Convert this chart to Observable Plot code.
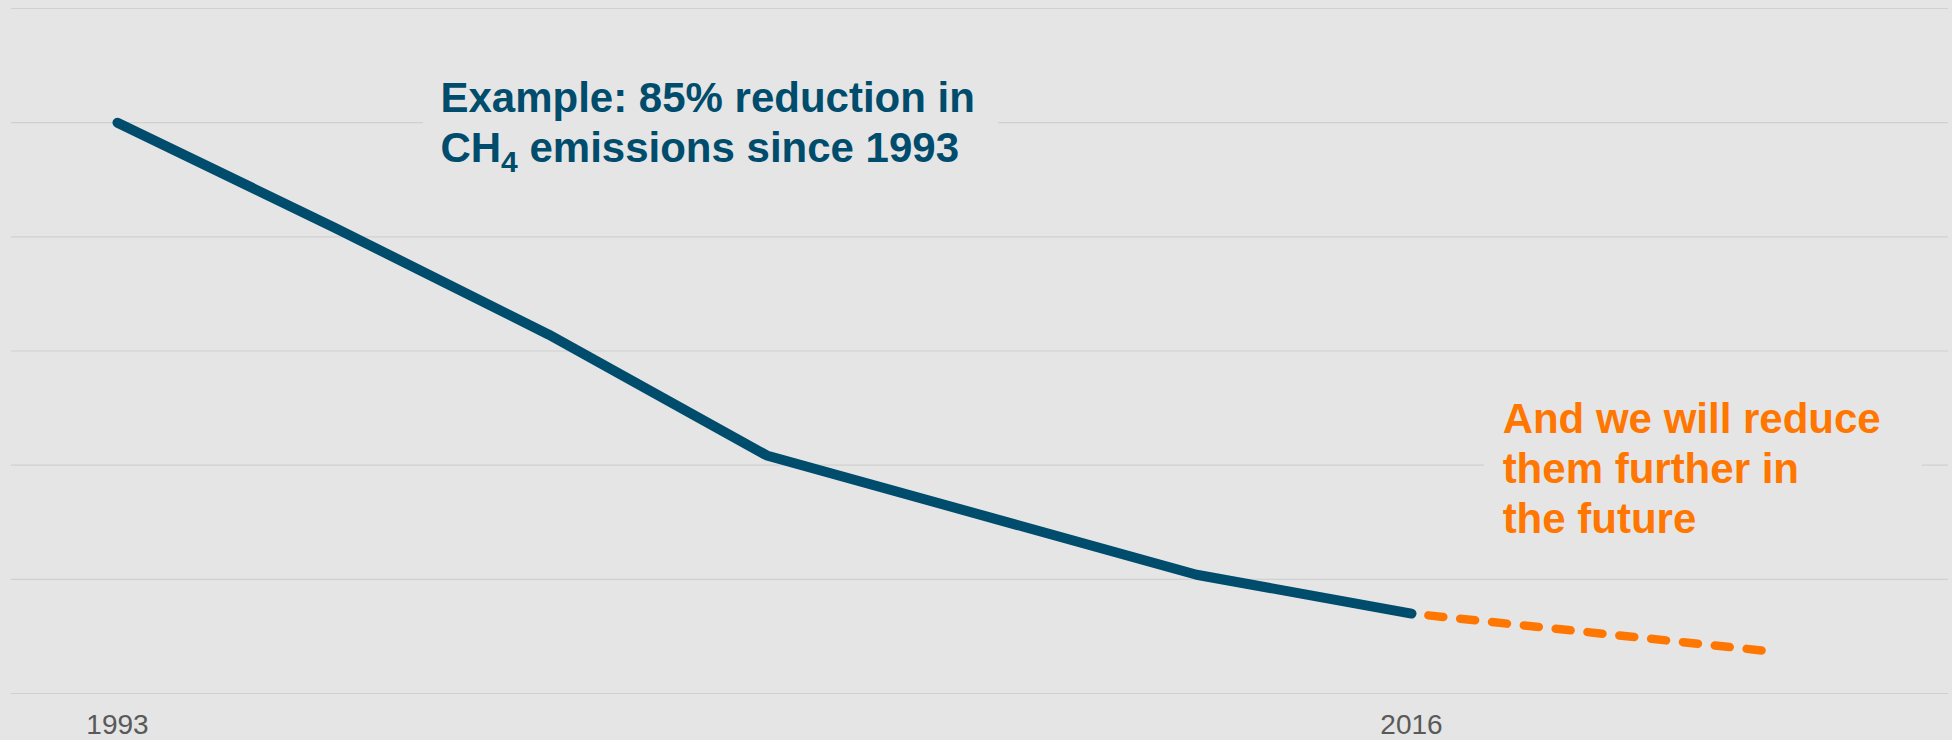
<!DOCTYPE html>
<html>
<head>
<meta charset="utf-8">
<script src="https://cdn.jsdelivr.net/npm/d3@7"></script>
<script src="https://cdn.jsdelivr.net/npm/@observablehq/plot@0.6"></script>
<style>
  html, body { margin: 0; padding: 0; background: #e5e5e5; overflow: hidden; }
  #chart svg { display: block; }
</style>
</head>
<body>
<div id="chart"></div>
<script>
// Historical CH4 emissions (index, 1993 = 100)
const years = [1993, 1996.86, 2000.66, 2004.54, 2012.18, 2016];
const emissions = [100, 81.6, 62.9, 41.7, 20.8, 14.0];
// Projected further reduction
const projYears = [2016, 2022.36];
const projEmissions = [14.0, 7.4];
// Axis
const tickYears = [1993, 2016];
const gridValues = [0, 20, 40, 60, 80, 100, 120];
// Annotations
const titleText = "Example: 85% reduction in\nCH₄ emissions since 1993";
const futureText = "And we will reduce\nthem further in\nthe future";

const hist = years.map((y, i) => ({year: y, value: emissions[i]}));
const proj = projYears.map((y, i) => ({year: y, value: projEmissions[i]}));

const BLUE = "#004c6c";
const ORANGE = "#ff7600";

const chart = Plot.plot({
  width: 1952,
  height: 740,
  marginLeft: 11,
  marginRight: 4,
  marginTop: 8,
  marginBottom: 47,
  style: {background: "#e5e5e5", fontFamily: "'Liberation Sans', Arial, sans-serif", color: "#595959"},
  x: {domain: [1991.116, 2025.545], axis: null},
  y: {domain: [0, 120], axis: null},
  marks: [
    Plot.ruleY(gridValues, {stroke: "#d0d0d0", strokeWidth: 1.2}),
    // text box backgrounds (cover the grid lines like the original text boxes)
    Plot.rect([{x1: 1998.44, x2: 2008.66, y1: 90, y2: 109}], {x1: "x1", x2: "x2", y1: "y1", y2: "y2", fill: "#e5e5e5"}),
    Plot.rect([{x1: 2017.30, x2: 2025.08, y1: 26, y2: 56}], {x1: "x1", x2: "x2", y1: "y1", y2: "y2", fill: "#e5e5e5"}),
    Plot.line(proj, {x: "year", y: "value", stroke: ORANGE, strokeWidth: 8.5, strokeLinecap: "round",
      strokeDasharray: "15,17", strokeDashoffset: 15}),
    Plot.line(hist, {x: "year", y: "value", stroke: BLUE, strokeWidth: 10, strokeLinecap: "round", strokeLinejoin: "round"}),
    Plot.axisX(tickYears, {tickSize: 0, tickPadding: 21, tickFormat: d => String(d), fontSize: 28, label: null}),
    Plot.text([{x: 1998.74, y: 93.08, t: titleText}], {x: "x", y: "y", text: "t", textAnchor: "start", lineAnchor: "bottom",
      lineHeight: 1.19, fontSize: 42, fontWeight: "bold", fill: BLUE}),
    Plot.text([{x: 2017.62, y: 28.03, t: futureText}], {x: "x", y: "y", text: "t", textAnchor: "start", lineAnchor: "bottom",
      lineHeight: 1.2, fontSize: 42, fontWeight: "bold", fill: ORANGE})
  ]
});

// Render the subscript in CH4
d3.select(chart).selectAll("tspan").each(function () {
  const s = this.textContent;
  if (s.startsWith("CH₄")) {
    this.textContent = "";
    this.appendChild(document.createTextNode("CH"));
    const sub = document.createElementNS("http://www.w3.org/2000/svg", "tspan");
    sub.setAttribute("font-size", "30");
    sub.setAttribute("dy", "10");
    sub.textContent = "4";
    this.appendChild(sub);
    const rest = document.createElementNS("http://www.w3.org/2000/svg", "tspan");
    rest.setAttribute("dy", "-10");
    rest.textContent = s.slice("CH₄".length);
    this.appendChild(rest);
  }
});

document.getElementById("chart").appendChild(chart);
</script>
</body>
</html>
